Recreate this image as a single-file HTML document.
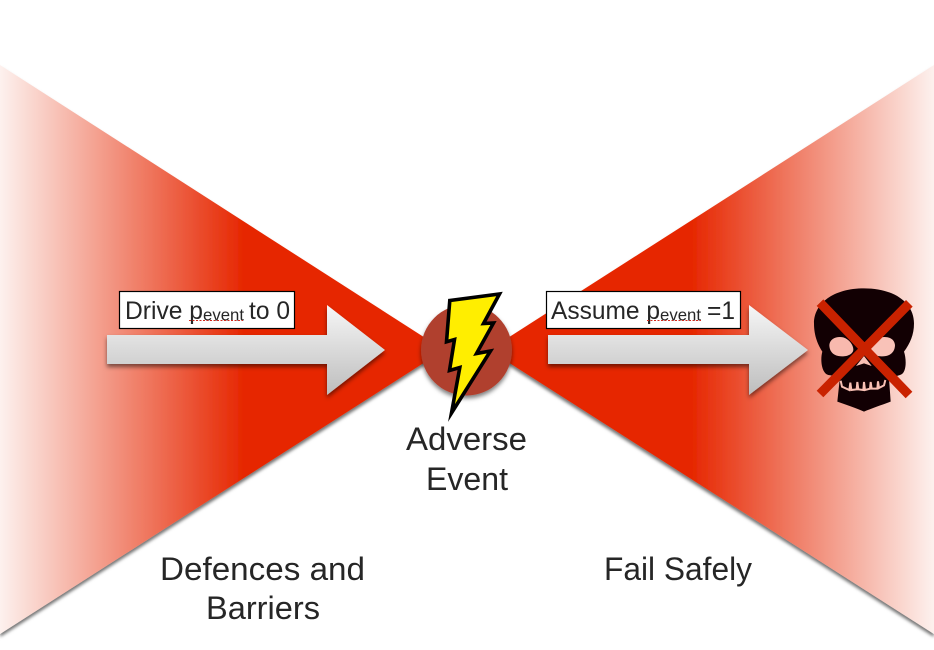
<!DOCTYPE html>
<html><head><meta charset="utf-8"><title>Bow-tie diagram</title>
<style>html,body{margin:0;padding:0;background:#fff}svg{display:block}
text{font-family:"Liberation Sans",sans-serif;fill:#262626}</style></head>
<body>
<svg width="934" height="650" viewBox="0 0 934 650" xmlns="http://www.w3.org/2000/svg">
<defs>
<linearGradient id="gl" gradientUnits="userSpaceOnUse" x1="0" y1="0" x2="245" y2="0"><stop offset="0" stop-color="#fdf1ee"/><stop offset="1" stop-color="#e62600"/></linearGradient>
<linearGradient id="gr" gradientUnits="userSpaceOnUse" x1="934" y1="0" x2="690" y2="0"><stop offset="0" stop-color="#fdf1ee"/><stop offset="1" stop-color="#e62600"/></linearGradient>
<linearGradient id="ga" x1="0" y1="0" x2="0" y2="1"><stop offset="0" stop-color="#f6f6f6"/><stop offset="1" stop-color="#bdbdbd"/></linearGradient>
<filter id="sh" x="-5%" y="-5%" width="110%" height="110%"><feDropShadow dx="0" dy="3" stdDeviation="1.500" flood-color="#000" flood-opacity=".55"/></filter>
<filter id="sh2" x="-10%" y="-10%" width="120%" height="125%"><feDropShadow dx="0" dy="3" stdDeviation="2" flood-color="#000" flood-opacity=".5"/></filter>
</defs>
<polygon points="0,65 444,350 0,634" fill="url(#gl)" filter="url(#sh)"/>
<polygon points="934,65 489,350 934,634" fill="url(#gr)" filter="url(#sh)"/>
<circle cx="466.500" cy="350" r="45.500" fill="#b0402f" filter="url(#sh2)"/>
<polygon points="449.800,300.500 499.500,294 483.500,323.500 493.500,323 476.500,353.500 490.500,351 451.500,413 459.800,367.500 449.500,370.500 454.500,339.500 446.500,341.800" fill="#ffee00" stroke="#000" stroke-width="3.600" stroke-linejoin="miter" stroke-miterlimit="12"/>
<polygon points="107,335 327,335 327,305 385,350 327,395 327,364 107,364" fill="url(#ga)" filter="url(#sh2)"/>
<polygon points="548,335 749,335 749,305 808,350 749,395 749,364 548,364" fill="url(#ga)" filter="url(#sh2)"/>
<rect x="119.500" y="291.500" width="175" height="37" fill="#fff" stroke="#000" stroke-width="1.200"/>
<rect x="546.500" y="291.500" width="194" height="37" fill="#fff" stroke="#000" stroke-width="1.200"/>
<text x="125" y="319" font-size="25" textLength="78" lengthAdjust="spacingAndGlyphs">Drive p</text>
<text x="203" y="320.500" font-size="17" textLength="41" lengthAdjust="spacingAndGlyphs">event</text>
<text x="249" y="319" font-size="25" textLength="41" lengthAdjust="spacingAndGlyphs">to 0</text>
<line x1="189" y1="320.500" x2="243" y2="320.500" stroke="#d42a1e" stroke-width="1" stroke-dasharray="2 1.500"/>
<text x="551" y="319" font-size="25" textLength="109" lengthAdjust="spacingAndGlyphs">Assume p</text>
<text x="660" y="320.500" font-size="17" textLength="41" lengthAdjust="spacingAndGlyphs">event</text>
<text x="707" y="319" font-size="25" textLength="28" lengthAdjust="spacingAndGlyphs">=1</text>
<line x1="647" y1="320.500" x2="701" y2="320.500" stroke="#d42a1e" stroke-width="1" stroke-dasharray="2 1.500"/>
<g transform="translate(790,280) scale(.33333)">
<path d="M222 25C130 25 72 70 72 130C72 170 85 195 97 215C90 240 95 280 115 285L150 290L142 365C170 375 200 385 222 395C245 385 275 375 302 365L297 295L330 285C350 280 350 240 342 215C360 190 372 165 372 130C372 70 315 25 222 25Z" fill="#120003"/>
<path d="M118 195C120 175 140 168 160 172C178 178 190 195 190 208C190 225 165 232 145 228C128 225 118 212 118 195Z" fill="#f8b9ae"/>
<path d="M315 195C313 175 293 168 273 172C255 178 243 195 243 208C243 225 268 232 288 228C305 225 315 212 315 195Z" fill="#f9c2b8"/>
<path d="M222 228L245 258L222 250L198 258Z" fill="#f8c0b4"/>
<path d="M152 302L156 320L178 330L181 308L184 330L200 328L202 306L205 328L220 330L222 306L225 330L240 326L242 306L245 326L262 326L264 304L267 324L282 316L286 300" fill="none" stroke="#f8c0b4" stroke-width="6"/>
<path d="M90 68L357 345M358 70L90 342" stroke="#c92200" stroke-width="28" fill="none"/>
</g>
<text x="406" y="450" font-size="32" textLength="121" lengthAdjust="spacingAndGlyphs">Adverse</text>
<text x="426" y="490" font-size="32" textLength="82" lengthAdjust="spacingAndGlyphs">Event</text>
<text x="160" y="580" font-size="32" textLength="205" lengthAdjust="spacingAndGlyphs">Defences and</text>
<text x="206" y="619" font-size="32" textLength="114" lengthAdjust="spacingAndGlyphs">Barriers</text>
<text x="604" y="580" font-size="32" textLength="148" lengthAdjust="spacingAndGlyphs">Fail Safely</text>
</svg>
</body></html>
